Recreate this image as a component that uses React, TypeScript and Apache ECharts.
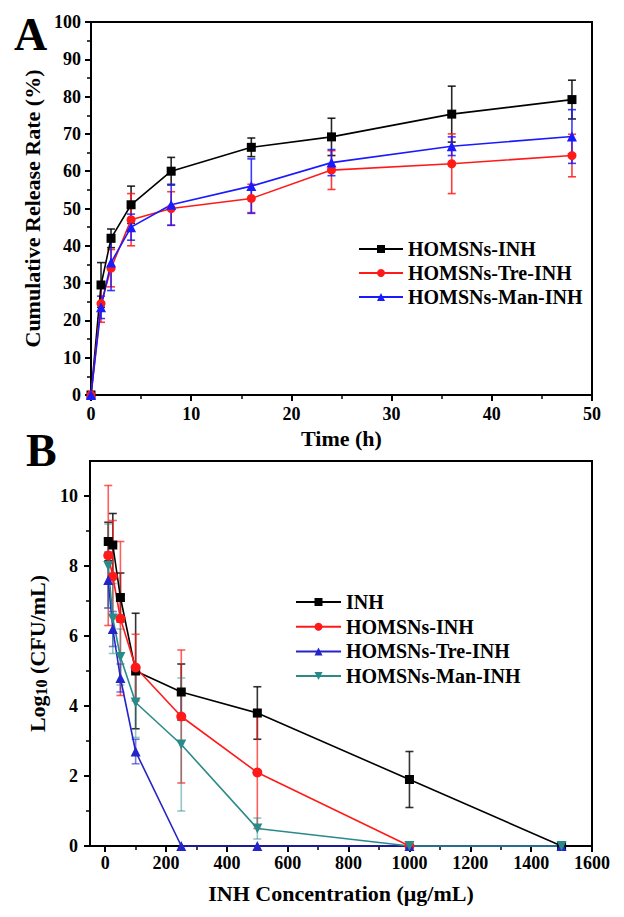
import React, { useEffect, useRef } from "react";
import * as echarts from "echarts";

// ---------- Panel A data ----------
const A_TIME = [0, 1, 2, 4, 8, 16, 24, 36, 48];
const A_NAMES = ["HOMSNs-INH", "HOMSNs-Tre-INH", "HOMSNs-Man-INH"];
const A_INH = [0, 29.5, 42, 51, 60, 66.4, 69.2, 75.3, 79.2];
const A_INH_ERR = [0, 6, 2.5, 5, 3.7, 2.5, 5, 7.5, 5.2];
const A_TRE = [0, 24.5, 34, 47, 50, 52.7, 60.3, 62, 64.2];
const A_TRE_ERR = [0, 5, 5, 7, 4.5, 3.8, 5.2, 8, 5.7];
const A_MAN = [0, 23.5, 35.5, 45, 51, 56, 62.3, 66.7, 69.3];
const A_MAN_ERR = [0, 3, 7.5, 3.5, 5.5, 7.3, 3.5, 2.5, 7.2];
const A_X_TICKS = [0, 10, 20, 30, 40, 50];
const A_Y_TICKS = [0, 10, 20, 30, 40, 50, 60, 70, 80, 90, 100];

// ---------- Panel B data ----------
const B_CONC = [10, 25, 50, 100, 250, 500, 1000, 1500];
const B_NAMES = ["INH", "HOMSNs-INH", "HOMSNs-Tre-INH", "HOMSNs-Man-INH"];
const B_INH = [8.7, 8.6, 7.1, 5.0, 4.4, 3.8, 1.9, 0];
const B_INH_ERR = [0.55, 0.9, 0.7, 1.65, 0.8, 0.75, 0.8, 0];
const B_HOM = [8.3, 7.7, 6.5, 5.1, 3.7, 2.1, 0, null];
const B_HOM_ERR = [2.0, 1.6, 2.2, 0.95, 1.9, 1.6, 0, 0];
const B_TRE = [7.6, 6.2, 4.8, 2.7, 0, 0, 0, 0];
const B_TRE_ERR = [0.8, 0.5, 0.4, 0.35, 0, 0, 0, 0];
const B_MAN = [8.0, 6.5, 5.4, 4.1, 2.9, 0.5, 0, 0];
const B_MAN_ERR = [1.2, 1.0, 0.8, 1.0, 1.9, 0.3, 0, 0];
const B_X_LABELS = [0, 200, 400, 600, 800, 1000, 1200, 1400, 1600];
const B_X_MINOR = [100, 300, 500, 700, 900, 1100, 1300, 1500];
const B_Y_LABELS = [0, 2, 4, 6, 8, 10];
const B_Y_MINOR = [1, 3, 5, 7, 9];

const FONT = "'Liberation Serif', 'Times New Roman', serif";

function lineData(xs: number[], ys: (number | null)[]) {
  return xs.map((x, i) => [x, ys[i]]).filter((d) => d[1] !== null);
}

function errData(xs: number[], ys: (number | null)[], es: number[]) {
  const out: number[][] = [];
  xs.forEach((x, i) => {
    const y = ys[i];
    if (y === null || !es[i]) return;
    out.push([x, y - es[i], y + es[i]]);
  });
  return out;
}

function errSeries(name: string, data: number[][], color: string, axisIdx: number, opacity: number) {
  return {
    type: "custom",
    name,
    xAxisIndex: axisIdx,
    yAxisIndex: axisIdx,
    z: 1,
    silent: true,
    clip: false,
    encode: { x: 0, y: [1, 2] },
    data,
    renderItem: (params: any, api: any) => {
      const x = api.value(0);
      const lo = api.value(1);
      const hi = api.value(2);
      const t = api.coord([x, hi]);
      const b = api.coord([x, lo]);
      const w = 4;
      const style = { stroke: color, lineWidth: 1.6, opacity };
      return {
        type: "group",
        children: [
          { type: "line", shape: { x1: t[0], y1: t[1], x2: b[0], y2: b[1] }, style },
          { type: "line", shape: { x1: t[0] - w, y1: t[1], x2: t[0] + w, y2: t[1] }, style },
          { type: "line", shape: { x1: b[0] - w, y1: b[1], x2: b[0] + w, y2: b[1] }, style },
        ],
      };
    },
  };
}

function lineSeries(name: string, data: any[], color: string, symbol: string, size: number, axisIdx: number) {
  return {
    type: "line",
    name,
    xAxisIndex: axisIdx,
    yAxisIndex: axisIdx,
    data,
    symbol,
    symbolSize: size,
    showAllSymbol: true,
    clip: false,
    z: 3,
    itemStyle: { color },
    lineStyle: { color, width: 1.6 },
  };
}

const labelStyle = {
  color: "#000",
  fontFamily: FONT,
  fontWeight: "bold" as const,
  fontSize: 18,
};

const nameStyle = {
  color: "#000",
  fontFamily: FONT,
  fontWeight: "bold" as const,
  fontSize: 22,
};

const plain = (v: number) => String(v);

const axisLine = { show: true, onZero: false, lineStyle: { color: "#000", width: 2 } };

export default function App() {
  const ref = useRef<HTMLDivElement>(null);
  useEffect(() => {
    if (!ref.current) return;
    const chart = echarts.init(ref.current, null, { renderer: "svg" });
    const cA = ["#000000", "#ff1a1a", "#1a1aff"];
    const cB = ["#000000", "#ff1a1a", "#2424c8", "#2a8a8a"];
    const option: any = {
      animation: false,
      backgroundColor: "#fff",
      grid: [
        { left: 91, top: 22, width: 501, height: 373, show: true, borderColor: "#000", borderWidth: 2, backgroundColor: "transparent" },
        { left: 90, top: 461, width: 502, height: 385, show: true, borderColor: "#000", borderWidth: 2, backgroundColor: "transparent" },
      ],
      xAxis: [
        {
          gridIndex: 0,
          type: "value",
          min: 0,
          max: 50,
          interval: 10,
          position: "bottom",
          axisLine,
          axisTick: { show: true, length: 6, lineStyle: { color: "#000", width: 2 } },
          minorTick: { show: true, splitNumber: 2, length: 4, lineStyle: { color: "#000", width: 1.5 } },
          splitLine: { show: false },
          minorSplitLine: { show: false },
          axisLabel: { ...labelStyle, margin: 10, customValues: A_X_TICKS, formatter: plain },
          name: "Time (h)",
          nameLocation: "middle",
          nameGap: 32,
          nameTextStyle: nameStyle,
        },
        {
          gridIndex: 1,
          type: "value",
          min: -50,
          max: 1600,
          position: "bottom",
          axisLine,
          axisTick: { show: true, length: 6, lineStyle: { color: "#000", width: 2 }, customValues: B_X_LABELS },
          splitLine: { show: false },
          axisLabel: { ...labelStyle, margin: 8, customValues: B_X_LABELS, formatter: plain },
          name: "INH Concentration (μg/mL)",
          nameLocation: "middle",
          nameGap: 36,
          nameTextStyle: nameStyle,
        },
        {
          gridIndex: 1,
          type: "value",
          min: -50,
          max: 1600,
          position: "bottom",
          axisLine: { show: false, onZero: false },
          axisTick: { show: true, length: 4, lineStyle: { color: "#000", width: 1.5 }, customValues: B_X_MINOR },
          splitLine: { show: false },
          axisLabel: { show: false },
        },
      ],
      yAxis: [
        {
          gridIndex: 0,
          type: "value",
          min: 0,
          max: 100,
          interval: 10,
          position: "left",
          axisLine,
          axisTick: { show: true, length: 6, lineStyle: { color: "#000", width: 2 } },
          minorTick: { show: true, splitNumber: 2, length: 4, lineStyle: { color: "#000", width: 1.5 } },
          splitLine: { show: false },
          minorSplitLine: { show: false },
          axisLabel: { ...labelStyle, margin: 10, customValues: A_Y_TICKS, formatter: plain },
          name: "Cumulative Release Rate (%)",
          nameLocation: "middle",
          nameGap: 40,
          nameTextStyle: nameStyle,
        },
        {
          gridIndex: 1,
          type: "value",
          min: 0,
          max: 11,
          position: "left",
          axisLine,
          axisTick: { show: true, length: 6, lineStyle: { color: "#000", width: 2 }, customValues: B_Y_LABELS },
          splitLine: { show: false },
          axisLabel: { ...labelStyle, margin: 12, customValues: B_Y_LABELS, formatter: plain },
          name: "Log{sub|10} (CFU/mL)",
          nameLocation: "middle",
          nameGap: 34,
          nameTextStyle: {
            ...nameStyle,
            rich: {
              sub: { fontFamily: FONT, fontWeight: "bold", fontSize: 16, color: "#000", padding: [8, 0, 0, 0] },
            },
          },
        },
        {
          gridIndex: 1,
          type: "value",
          min: 0,
          max: 11,
          position: "left",
          axisLine: { show: false, onZero: false },
          axisTick: { show: true, length: 4, lineStyle: { color: "#000", width: 1.5 }, customValues: B_Y_MINOR },
          splitLine: { show: false },
          axisLabel: { show: false },
        },
      ],
      legend: [
        {
          orient: "vertical",
          left: 358,
          top: 239,
          padding: 0,
          itemGap: 4,
          itemWidth: 44,
          itemHeight: 10,
          data: A_NAMES.map((n) => "A:" + n),
          formatter: (n: string) => n.replace(/^[AB]:/, ""),
          textStyle: { ...labelStyle, fontSize: 20, lineHeight: 20 },
          selectedMode: false,
        },
        {
          orient: "vertical",
          left: 295,
          top: 592,
          padding: 0,
          itemGap: 4.7,
          itemWidth: 45,
          itemHeight: 10,
          data: B_NAMES.map((n) => "B:" + n),
          formatter: (n: string) => n.replace(/^[AB]:/, ""),
          textStyle: { ...labelStyle, fontSize: 20, lineHeight: 20 },
          selectedMode: false,
        },
      ],
      graphic: [
        { type: "text", left: 14, top: 11, style: { text: "A", font: `bold 46px ${FONT}`, fill: "#000" } },
        { type: "text", left: 26, top: 427, style: { text: "B", font: `bold 46px ${FONT}`, fill: "#000" } },
      ],
      series: [
        errSeries("eA0", errData(A_TIME, A_INH, A_INH_ERR), cA[0], 0, 0.85),
        errSeries("eA1", errData(A_TIME, A_TRE, A_TRE_ERR), cA[1], 0, 0.85),
        errSeries("eA2", errData(A_TIME, A_MAN, A_MAN_ERR), cA[2], 0, 0.85),
        lineSeries("A:" + A_NAMES[0], lineData(A_TIME, A_INH), cA[0], "rect", 9, 0),
        lineSeries("A:" + A_NAMES[1], lineData(A_TIME, A_TRE), cA[1], "circle", 9, 0),
        lineSeries("A:" + A_NAMES[2], lineData(A_TIME, A_MAN), cA[2], "triangle", 10, 0),
        errSeries("eB0", errData(B_CONC, B_INH, B_INH_ERR), cB[0], 1, 0.8),
        errSeries("eB1", errData(B_CONC, B_HOM, B_HOM_ERR), cB[1], 1, 0.7),
        errSeries("eB2", errData(B_CONC, B_TRE, B_TRE_ERR), cB[2], 1, 0.6),
        errSeries("eB3", errData(B_CONC, B_MAN, B_MAN_ERR), cB[3], 1, 0.5),
        lineSeries("B:" + B_NAMES[0], lineData(B_CONC, B_INH), cB[0], "rect", 9, 1),
        lineSeries("B:" + B_NAMES[1], lineData(B_CONC, B_HOM), cB[1], "circle", 10, 1),
        lineSeries("B:" + B_NAMES[2], lineData(B_CONC, B_TRE), cB[2], "triangle", 10, 1),
        lineSeries("B:" + B_NAMES[3], lineData(B_CONC, B_MAN), cB[3], "path://M0,0 L10,0 L5,9 Z", 10, 1),
      ],
    };
    chart.setOption(option);
    return () => chart.dispose();
  }, []);
  return <div ref={ref} style={{ position: "fixed", left: 0, top: 0, width: 624, height: 917 }} />;
}
